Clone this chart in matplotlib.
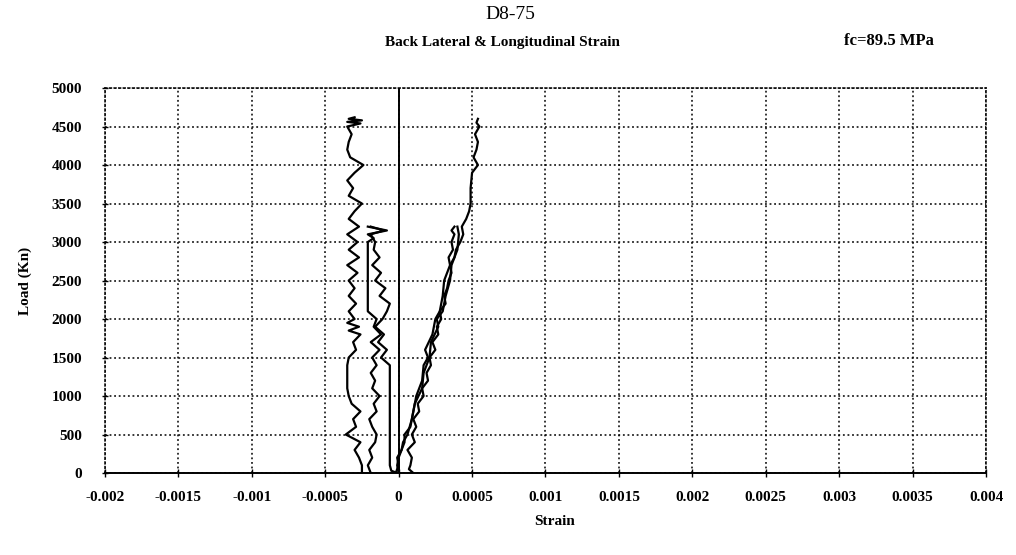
import matplotlib
matplotlib.use("Agg")
import matplotlib.pyplot as plt

# ---- data (strain, load in kN) ----
lat1_load = [0, 100, 200, 300, 400, 500, 600, 700, 800, 900, 1000, 1100, 1200, 1300, 1400,
             1500, 1600, 1700, 1800, 1850, 1900, 1950, 2000, 2100, 2200, 2300, 2400, 2500,
             2600, 2700, 2800, 2900, 3000, 3100, 3200, 3300, 3400, 3500, 3600, 3700, 3800,
             3900, 4000, 4100, 4200, 4300, 4400, 4500, 4540, 4560, 4580, 4600, 4620]
lat1_strain = [-0.00025, -0.00025, -0.00027, -0.00030, -0.00026, -0.00036, -0.00029, -0.00031,
               -0.00026, -0.00032, -0.00034, -0.00035, -0.00035, -0.00035, -0.00035,
               -0.00034, -0.00029, -0.00031, -0.00026, -0.00034, -0.00027, -0.00035, -0.00030,
               -0.00034, -0.00029, -0.00034, -0.00030, -0.00034, -0.00028, -0.00035, -0.00027,
               -0.00034, -0.00028, -0.00035, -0.00027, -0.00034, -0.00030, -0.00025, -0.00034,
               -0.00031, -0.00035, -0.00030, -0.00024, -0.00033, -0.00035, -0.00034, -0.00032,
               -0.00035, -0.00026, -0.00035, -0.00025, -0.00034, -0.00030]

lat2_load = [0, 100, 200, 300, 400, 500, 600, 700, 800, 900, 1000, 1100, 1200, 1300, 1400,
             1500, 1600, 1700, 1800, 1900, 2000, 2100, 2500, 2900, 3000, 3050, 3100, 3150, 3200]
lat2_strain = [-0.00019, -0.00021, -0.00018, -0.00020, -0.00016, -0.00015, -0.00018, -0.00020,
               -0.00015, -0.00017, -0.00013, -0.00018, -0.00016, -0.00019, -0.00015,
               -0.00018, -0.00013, -0.00019, -0.00012, -0.00017, -0.00015, -0.00021, -0.00021,
               -0.00021, -0.00021, -0.00017, -0.00021, -0.00008, -0.00021]

lat3_load = [0, 30, 100, 400, 800, 1200, 1400, 1500, 1600, 1700, 1800, 1900, 2000, 2100,
             2200, 2300, 2400, 2500, 2600, 2700, 2800, 2900, 3000, 3100, 3150, 3200]
lat3_strain = [-0.00001, -0.00005, -0.00006, -0.00006, -0.00006, -0.00006, -0.00006, -0.00012,
               -0.00008, -0.00014, -0.00010, -0.00016, -0.00011, -0.00008, -0.00006, -0.00013,
               -0.00009, -0.00016, -0.00012, -0.00018, -0.00013, -0.00017, -0.00016, -0.00019,
               -0.00010, -0.00019]

lon1_load = [0, 50, 100, 200, 300, 400, 500, 600, 700, 800, 900, 1000, 1100, 1200, 1300,
             1400, 1500, 1600, 1700, 1800, 1900, 2000, 2100, 2200, 2300, 2400, 2500, 2600,
             2700, 2800, 2900, 3000, 3100, 3200, 3300, 3400, 3500, 3700, 3900, 4000, 4100,
             4200, 4300, 4400, 4500, 4550, 4600]
lon1_strain = [0.00010, 0.00007, 0.00008, 0.00009, 0.00006, 0.00011, 0.00009, 0.00012, 0.00010,
               0.00014, 0.00013, 0.00017, 0.00016, 0.00020, 0.00019, 0.00022, 0.00021, 0.00025,
               0.00023, 0.00027, 0.00026, 0.00029, 0.00028, 0.00032, 0.00031, 0.00033, 0.00034,
               0.00036, 0.00035, 0.00038, 0.00039, 0.00042, 0.00044, 0.00043, 0.00046, 0.00048,
               0.00049, 0.00049, 0.00050, 0.00054, 0.00051, 0.00053, 0.00054, 0.00052, 0.00055,
               0.00053, 0.00054]

lon2_load = [0, 100, 200, 300, 400, 500, 600, 800, 1000, 1200, 1400, 1500, 1600, 1800, 2000,
             2100, 2300, 2500, 2700, 2800, 2900, 3000, 3100, 3150, 3200]
lon2_strain = [0.0, -0.00001, 0.0, 0.00002, 0.00004, 0.00004, 0.00008, 0.00010, 0.00012,
               0.00016, 0.00017, 0.00020, 0.00018, 0.00023, 0.00025, 0.00028, 0.00030, 0.00031,
               0.00035, 0.00034, 0.00037, 0.00036, 0.00038, 0.00036, 0.00038]

lon3_load = [0, 100, 200, 300, 400, 500, 700, 900, 1100, 1300, 1500, 1700, 1900, 2000, 2100,
             2300, 2500, 2700, 2900, 3100, 3200]
lon3_strain = [-0.00002, 0.0, -0.00001, 0.00002, 0.00003, 0.00006, 0.00009, 0.00011, 0.00016,
               0.00017, 0.00021, 0.00022, 0.00027, 0.00026, 0.00030, 0.00032, 0.00035, 0.00036,
               0.00040, 0.00041, 0.00040]

x_ticks = [-0.002, -0.0015, -0.001, -0.0005, 0, 0.0005, 0.001, 0.0015, 0.002, 0.0025, 0.003, 0.0035, 0.004]
x_labels = ["-0.002", "-0.0015", "-0.001", "-0.0005", "0", "0.0005", "0.001", "0.0015",
            "0.002", "0.0025", "0.003", "0.0035", "0.004"]
y_ticks = [0, 500, 1000, 1500, 2000, 2500, 3000, 3500, 4000, 4500, 5000]

plt.rcParams['font.family'] = ['Liberation Serif', 'DejaVu Serif']

fig = plt.figure(figsize=(10.16, 5.55), dpi=100)
ax = fig.add_axes([0.1033, 0.1477, 0.8672, 0.6937])

for xs, ys in [(lat1_strain, lat1_load), (lat2_strain, lat2_load), (lat3_strain, lat3_load),
               (lon1_strain, lon1_load), (lon2_strain, lon2_load), (lon3_strain, lon3_load)]:
    ax.plot(xs, ys, color='black', lw=1.6, zorder=3)

ax.axvline(0, color='black', lw=1.4, zorder=2)

ax.set_xlim(-0.002, 0.004)
ax.set_ylim(0, 5000)
ax.set_xticks(x_ticks)
ax.set_xticklabels(x_labels, fontsize=11, fontweight='bold')
ax.set_yticks(y_ticks)
ax.set_yticklabels([str(v) for v in y_ticks], fontsize=11, fontweight='bold')
ax.grid(True, color='black', linestyle=(0, (1.2, 1.8)), lw=1.1)
for s in ['top', 'right', 'left']:
    ax.spines[s].set_linestyle((0, (1.2, 1.8)))
    ax.spines[s].set_linewidth(1.1)
ax.spines['bottom'].set_linewidth(1.4)
ax.tick_params(axis='x', direction='inout', length=6, width=1, pad=10)
ax.tick_params(axis='y', direction='inout', length=5, width=1, pad=14)

ax.set_ylabel("Load (Kn)", fontsize=11, fontweight='bold', labelpad=14)
fig.text(0.546, 0.061, "Strain", ha='center', va='center', fontsize=11, fontweight='bold')

fig.text(0.502, 0.973, "D8-75", ha='center', va='center', fontsize=14)
fig.text(0.495, 0.923, "Back Lateral & Longitudinal Strain", ha='center', va='center',
         fontsize=11, fontweight='bold')
fig.text(0.875, 0.926, "fc=89.5 MPa", ha='center', va='center', fontsize=12, fontweight='bold')

fig.savefig("out.png", dpi=100)
